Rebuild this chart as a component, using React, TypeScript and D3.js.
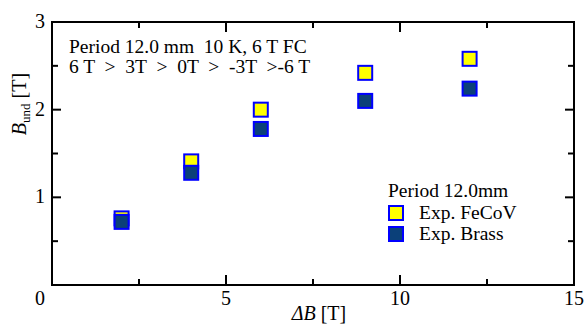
import React, { useEffect, useRef } from 'react'
import * as d3 from 'd3'

// chart values
const deltaB = [2, 4, 6, 9, 12]
const feCoV = [0.76, 1.41, 2.0, 2.42, 2.58]
const brass = [0.72, 1.28, 1.78, 2.1, 2.24]

const xTickLabels = [5, 10, 15]
const yTickLabels = [1, 2, 3]
const xMinorTicks = [2.5, 7.5, 12.5]
const yMinorTicks = [0.5, 1.5, 2.5]

const noteLines = ['Period 12.0 mm  10 K, 6 T FC', '6 T  >  3T  >  0T  >  -3T  >-6 T']
const legendTitle = 'Period 12.0mm'
const seriesNames = ['Exp. FeCoV', 'Exp. Brass']
const seriesFill = ['#ffff00', '#0b4079']

const W = 585
const H = 327
const FONT = "'Liberation Serif', 'Times New Roman', Times, serif"

function App() {
  const ref = useRef(null)

  useEffect(() => {
    const svg = d3.select(ref.current)
    svg.selectAll('*').remove()

    const left = 52, right = 574, top = 22, bottom = 285
    const x = d3.scaleLinear().domain([0, 15]).range([left, right])
    const y = d3.scaleLinear().domain([0, 3]).range([bottom, top])

    const g = svg.append('g')

    // frame
    g.append('rect')
      .attr('x', left).attr('y', top)
      .attr('width', right - left).attr('height', bottom - top)
      .attr('fill', 'none').attr('stroke', '#000').attr('stroke-width', 2)

    const tick = (x1, y1, x2, y2) =>
      g.append('line')
        .attr('x1', x1).attr('y1', y1).attr('x2', x2).attr('y2', y2)
        .attr('stroke', '#000').attr('stroke-width', 2)

    // ticks, all pointing inwards
    xTickLabels.concat([0]).forEach(v => {
      tick(x(v), bottom, x(v), bottom - 10)
      tick(x(v), top, x(v), top + 10)
    })
    xMinorTicks.forEach(v => {
      tick(x(v), bottom, x(v), bottom - 6)
      tick(x(v), top, x(v), top + 6)
    })
    yTickLabels.forEach(v => {
      tick(left, y(v), left + 9, y(v))
      tick(right, y(v), right - 9, y(v))
    })
    yMinorTicks.forEach(v => {
      tick(left, y(v), left + 6, y(v))
      tick(right, y(v), right - 6, y(v))
    })

    // tick labels
    g.selectAll('.xl').data(xTickLabels).enter().append('text')
      .attr('x', d => x(d)).attr('y', 305)
      .attr('text-anchor', 'middle')
      .attr('font-size', 20)
      .text(d => d)
    g.selectAll('.yl').data(yTickLabels).enter().append('text')
      .attr('x', 45).attr('y', d => y(d) + 6)
      .attr('text-anchor', 'end')
      .attr('font-size', 20)
      .text(d => d)
    g.append('text')
      .attr('x', 40).attr('y', 305)
      .attr('text-anchor', 'middle')
      .attr('font-size', 20)
      .text('0')

    // axis titles
    const xt = g.append('text')
      .attr('x', 319).attr('y', 320)
      .attr('text-anchor', 'middle')
      .attr('font-size', 20)
    xt.append('tspan').attr('font-style', 'italic').text('ΔB')
    xt.append('tspan').text(' [T]')

    const yt = g.append('text')
      .attr('transform', 'translate(26,104) rotate(-90)')
      .attr('text-anchor', 'middle')
      .attr('font-size', 20)
    yt.append('tspan').attr('font-style', 'italic').text('B')
    yt.append('tspan').attr('font-size', 13).attr('dy', 4).text('und')
    yt.append('tspan').attr('dy', -4).text(' [T]')

    // note
    noteLines.forEach((s, i) => {
      g.append('text')
        .attr('x', 69).attr('y', 53 + i * 20)
        .attr('font-size', 19.5)
        .style('white-space', 'pre')
        .text(s)
    })

    // markers
    const size = 14
    const series = [feCoV, brass]
    series.forEach((vals, si) => {
      g.selectAll('.m' + si).data(vals).enter().append('rect')
        .attr('x', (d, i) => x(deltaB[i]) - size / 2)
        .attr('y', d => y(d) - size / 2)
        .attr('width', size).attr('height', size)
        .attr('fill', seriesFill[si])
        .attr('stroke', '#0000ff').attr('stroke-width', 2)
    })

    // legend
    g.append('text')
      .attr('x', 388).attr('y', 197)
      .attr('font-size', 19.5)
      .text(legendTitle)
    seriesNames.forEach((s, i) => {
      const cy = 213 + i * 21
      g.append('rect')
        .attr('x', 396 - size / 2).attr('y', cy - size / 2)
        .attr('width', size).attr('height', size)
        .attr('fill', seriesFill[i])
        .attr('stroke', '#0000ff').attr('stroke-width', 2)
      g.append('text')
        .attr('x', 419).attr('y', cy + 6)
        .attr('font-size', 19.5)
        .text(s)
    })
  }, [])

  return (
    <svg ref={ref} width={W} height={H}
      style={{ position: 'absolute', left: 0, top: 0, background: '#fff', fontFamily: FONT }} />
  )
}

export default App
